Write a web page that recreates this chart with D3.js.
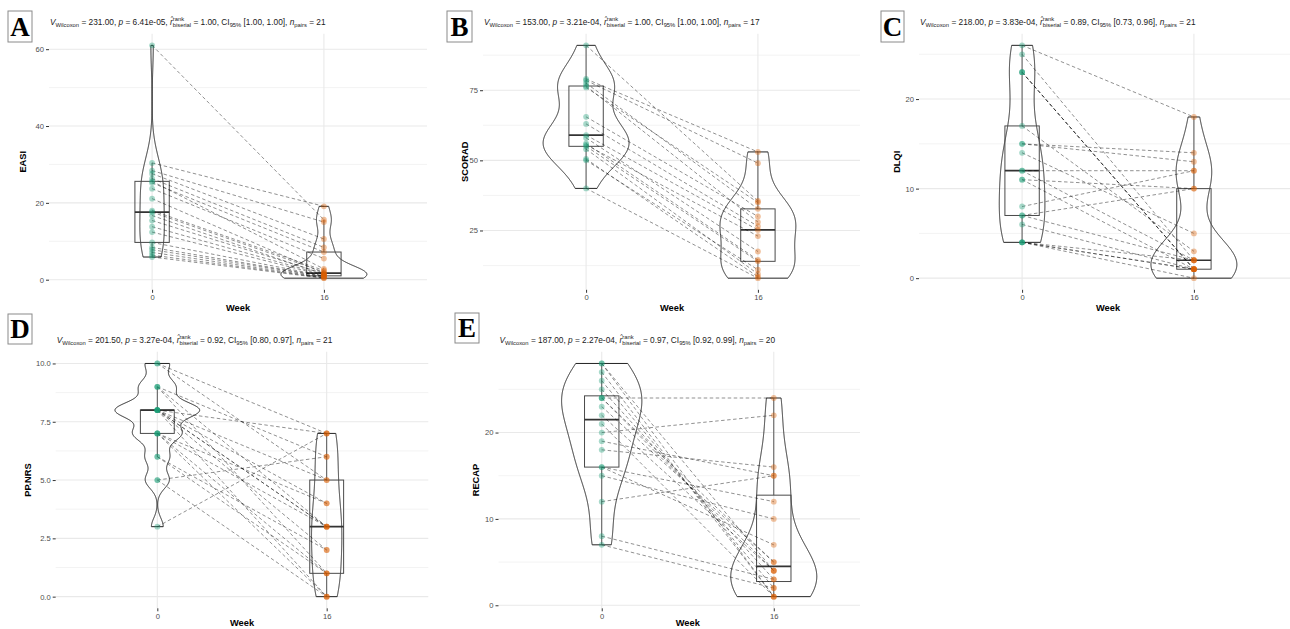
<!DOCTYPE html>
<html>
<head>
<meta charset="utf-8">
<script src="https://cdn.jsdelivr.net/npm/d3@7"></script>
<style>
body { margin: 0; background: #fff; }
svg { display: block; font-family: "Liberation Sans", Arial, sans-serif; }
</style>
</head>
<body>
<svg id="fig" width="1290" height="629"></svg>
<script>
// paired scores: index i is the same patient at week 0 and week 16
var weeks = ["0", "16"];

var easiW0 = [61, 30.4, 28.4, 27.6, 26.3, 25.6, 25.2, 23.7, 21.1, 18, 17.6, 16.7, 15.4, 13.8, 12.4, 9.7, 8.4, 7.8, 7.1, 6.4, 5.9];
var easiW16 = [15.6, 19.1, 15.0, 10.6, 8.4, 2.8, 7.2, 5.5, 1.7, 2.4, 2.0, 1.4, 1.6, 1.3, 1.1, 1.0, 0.9, 0.8, 0.6, 0.5, 0.4];

var scoradW0 = [91, 79, 78.5, 77.5, 76.5, 76, 65.5, 63, 59, 58, 56, 55.5, 55, 54, 50.5, 50, 40];
var scoradW16 = [35.5, 53, 49, 32.7, 28, 35, 30, 26.5, 25.2, 17.5, 14.5, 23, 14, 9.5, 8.5, 11, 8];

var dlqiW0 = [26, 25, 23, 23, 23, 17, 15, 15, 14, 12, 12, 11, 11, 8, 7, 7, 6, 4, 4, 4, 4];
var dlqiW16 = [18, 2, 1, 1, 1, 3, 14, 13, 5, 12, 2, 10, 1, 12, 10, 2, 1, 2, 1, 0, 1];

var nrsW0 = [10, 10, 9, 9, 9, 8, 8, 8, 8, 8, 8, 8, 7, 7, 7, 7, 6, 6, 5, 5, 3];
var nrsW16 = [7, 5, 6, 3, 1, 7, 5, 4, 3, 3, 2, 0, 4, 3, 1, 0, 2, 1, 0, 6, 7];

var recapW0 = [24, 20, 12, 16, 15, 18, 19, 16, 8, 7, 28, 28, 27, 26, 25, 24, 24, 23, 22, 21];
var recapW16 = [24, 22, 15, 12, 10, 16, 15, 7, 3, 2, 1, 4, 1, 2, 3, 5, 4, 5, 4, 1];

var easiTicks = [0, 20, 40, 60];
var scoradTicks = [25, 50, 75];
var dlqiTicks = [0, 10, 20];
var nrsTicks = [0, 2.5, 5, 7.5, 10];
var recapTicks = [0, 10, 20];

// Wilcoxon results printed above each panel
var vStat = ["231.00", "153.00", "218.00", "201.50", "187.00"];
var pVal = ["6.41e-05", "3.21e-04", "3.83e-04", "3.27e-04", "2.27e-04"];
var rBis = ["1.00", "1.00", "0.89", "0.92", "0.97"];
var ciLow = ["1.00", "1.00", "0.73", "0.80", "0.92"];
var ciHigh = ["1.00", "1.00", "0.96", "0.97", "0.99"];
var nPairs = ["21", "17", "21", "21", "20"];

var colW0 = "#1B9E77", colW16 = "#D95F02";

var panels = [
  {tag: "A", name: "EASI", a: easiW0, b: easiW16, ticks: easiTicks, fmt: d3.format("d"),
   x0: 49, x1: 427, top: 33.7, bottom: 289.8, tagBox: [8, 11, 24, 31], titleX: 26, clipR: 430, weekDy: 21},
  {tag: "B", name: "SCORAD", a: scoradW0, b: scoradW16, ticks: scoradTicks, fmt: d3.format("d"),
   x0: 483, x1: 861, top: 33.7, bottom: 289.8, tagBox: [447, 11, 25, 31], titleX: 468, clipR: 860, weekDy: 21},
  {tag: "C", name: "DLQI", a: dlqiW0, b: dlqiW16, ticks: dlqiTicks, fmt: d3.format("d"),
   x0: 919, x1: 1297, top: 33.7, bottom: 289.8, tagBox: [881, 11, 23, 31], titleX: 900, clipR: 1290, weekDy: 21},
  {tag: "D", name: "PP.NRS", a: nrsW0, b: nrsW16, ticks: nrsTicks, fmt: d3.format(".1f"),
   x0: 55.7, x1: 428.3, top: 351.8, bottom: 608.3, tagBox: [8, 314, 24, 30], titleX: 31, clipR: 430, weekDy: 17.5},
  {tag: "E", name: "RECAP", a: recapW0, b: recapW16, ticks: recapTicks, fmt: d3.format("d"),
   x0: 498.5, x1: 877, top: 351.8, bottom: 608.3, tagBox: [455, 313, 24, 30], titleX: 479, clipR: 860, weekDy: 17.5}
];

var svg = d3.select("#fig");

function bwNrd0(v) {
  var s = v.slice().sort(d3.ascending);
  var sd = d3.deviation(s);
  var iqr = d3.quantile(s, 0.75) - d3.quantile(s, 0.25);
  var lo = Math.min(sd, iqr / 1.34);
  if (!lo) lo = sd || 1;
  return 0.9 * lo * Math.pow(s.length, -0.2);
}

function density(v) {
  var bw = bwNrd0(v);
  var ext = d3.extent(v);
  var grid = d3.range(512).map(function (i) { return ext[0] + (ext[1] - ext[0]) * i / 511; });
  return grid.map(function (y) {
    var d = d3.mean(v, function (x) {
      var u = (y - x) / bw;
      return Math.exp(-0.5 * u * u) / Math.sqrt(2 * Math.PI);
    }) / bw;
    return {v: y, d: d};
  });
}

function boxStats(v) {
  var s = v.slice().sort(d3.ascending);
  var q1 = d3.quantile(s, 0.25), med = d3.quantile(s, 0.5), q3 = d3.quantile(s, 0.75);
  var iqr = q3 - q1;
  var lo = d3.min(s.filter(function (x) { return x >= q1 - 1.5 * iqr; }));
  var hi = d3.max(s.filter(function (x) { return x <= q3 + 1.5 * iqr; }));
  return {q1: q1, med: med, q3: q3, lo: lo, hi: hi};
}

function drawTitle(g, x, y, i) {
  var base = 8.3, small = 5.8;
  var cx = x;
  function put(t, opt) {
    opt = opt || {};
    var el = g.append("text")
      .attr("x", cx).attr("y", y + (opt.dy || 0))
      .attr("xml:space", "preserve")
      .style("white-space", "pre")
      .style("font-size", (opt.small ? small : base) + "px")
      .style("font-style", opt.it ? "italic" : "normal")
      .attr("fill", "#1a1a1a")
      .text(t);
    return el.node().getComputedTextLength();
  }
  cx += put("V", {it: true});
  cx += put("Wilcoxon", {small: true, dy: 2.3});
  cx += put(" = " + vStat[i] + ", ");
  cx += put("p", {it: true});
  cx += put(" = " + pVal[i] + ", ");
  var rx = cx;
  cx += put("r", {it: true});
  g.append("text").attr("x", rx + 0.7).attr("y", y - 4.6)
    .style("font-size", "5.5px").attr("fill", "#1a1a1a").text("^");
  var w1 = put("rank", {small: true, dy: -4});
  var w2 = put("biserial", {small: true, dy: 2.4});
  cx += Math.max(w1, w2);
  cx += put(" = " + rBis[i] + ", CI");
  cx += put("95%", {small: true, dy: 2.3});
  cx += put(" [" + ciLow[i] + ", " + ciHigh[i] + "], ");
  cx += put("n", {it: true});
  cx += put("pairs", {small: true, dy: 2.3});
  put(" = " + nPairs[i]);
}

panels.forEach(function (p, i) {
  var g = svg.append("g");
  var clipId = "clip" + i;
  svg.append("clipPath").attr("id", clipId)
    .append("rect").attr("x", 0).attr("y", p.top - 40)
    .attr("width", p.clipR).attr("height", 400);
  g.attr("clip-path", "url(#" + clipId + ")");

  var all = p.a.concat(p.b);
  var ext = d3.extent(all);
  var pad = (ext[1] - ext[0]) * 0.05;
  var y = d3.scaleLinear().domain([ext[0] - pad, ext[1] + pad]).range([p.bottom, p.top]);
  var x = d3.scalePoint().domain(weeks).range([p.x0, p.x1]).padding(0.6);
  var step = x.step();

  // grid
  var tk = p.ticks, dt = tk[1] - tk[0];
  var minors = d3.range(tk[0] - dt / 2, tk[tk.length - 1] + dt, dt)
    .filter(function (m) { return m >= y.domain()[0] && m <= y.domain()[1]; });
  g.selectAll(".minor").data(minors).enter().append("line")
    .attr("x1", p.x0).attr("x2", p.x1)
    .attr("y1", function (d) { return y(d); }).attr("y2", function (d) { return y(d); })
    .attr("stroke", "#f2f2f2").attr("stroke-width", 0.9);
  g.selectAll(".major").data(tk).enter().append("line")
    .attr("x1", p.x0).attr("x2", p.x1)
    .attr("y1", function (d) { return y(d); }).attr("y2", function (d) { return y(d); })
    .attr("stroke", "#e9e9e9").attr("stroke-width", 1.1);
  g.selectAll(".vgrid").data(weeks).enter().append("line")
    .attr("x1", function (d) { return x(d); }).attr("x2", function (d) { return x(d); })
    .attr("y1", p.top).attr("y2", p.bottom)
    .attr("stroke", "#e9e9e9").attr("stroke-width", 1.1);

  // axes
  var ya = g.append("g").attr("transform", "translate(" + p.x0 + ",0)")
    .call(d3.axisLeft(y).tickValues(tk).tickFormat(p.fmt).tickSize(3).tickPadding(2));
  var xa = g.append("g").attr("transform", "translate(0," + p.bottom + ")")
    .call(d3.axisBottom(x).tickSize(3).tickPadding(2));
  [ya, xa].forEach(function (a) {
    a.select(".domain").remove();
    a.selectAll("line").attr("stroke", "#333");
    a.selectAll("text").attr("fill", "#4d4d4d").style("font-size", "7.6px")
      .style("font-family", "Liberation Sans, Arial, sans-serif");
  });

  g.append("text").attr("x", (p.x0 + p.x1) / 2).attr("y", p.bottom + p.weekDy)
    .attr("text-anchor", "middle").style("font-weight", "bold").style("font-size", "9.3px")
    .text("Week");
  g.append("text").attr("transform", "translate(" + p.titleX + "," + ((p.top + p.bottom) / 2) + ") rotate(-90)")
    .attr("text-anchor", "middle").style("font-weight", "bold").style("font-size", "9.3px")
    .text(p.name);

  // violins, scaled by the largest density in the panel
  var dens = [density(p.a), density(p.b)];
  var dmax = d3.max(dens, function (ds) { return d3.max(ds, function (d) { return d.d; }); });
  var half = 0.25 * step;
  dens.forEach(function (ds, k) {
    var cx = x(weeks[k]);
    var area = d3.area()
      .x0(function (d) { return cx - d.d / dmax * half; })
      .x1(function (d) { return cx + d.d / dmax * half; })
      .y(function (d) { return y(d.v); });
    g.append("path").datum(ds).attr("d", area)
      .attr("fill", "none").attr("stroke", "#222").attr("stroke-width", 1);
  });

  // boxplots
  [p.a, p.b].forEach(function (v, k) {
    var s = boxStats(v), cx = x(weeks[k]), bw = 0.1 * step;
    g.append("line").attr("x1", cx).attr("x2", cx).attr("y1", y(s.q3)).attr("y2", y(s.hi))
      .attr("stroke", "#555").attr("stroke-width", 1);
    g.append("line").attr("x1", cx).attr("x2", cx).attr("y1", y(s.q1)).attr("y2", y(s.lo))
      .attr("stroke", "#555").attr("stroke-width", 1);
    g.append("rect").attr("x", cx - bw).attr("width", 2 * bw)
      .attr("y", y(s.q3)).attr("height", y(s.q1) - y(s.q3))
      .attr("fill", "none").attr("stroke", "#4a4a4a").attr("stroke-width", 1);
    g.append("line").attr("x1", cx - bw).attr("x2", cx + bw).attr("y1", y(s.med)).attr("y2", y(s.med))
      .attr("stroke", "#333").attr("stroke-width", 1.7);
  });

  // paired dashed paths
  var pairs = p.a.map(function (v, j) { return [v, p.b[j]]; });
  g.selectAll(".pair").data(pairs).enter().append("line")
    .attr("x1", x(weeks[0])).attr("x2", x(weeks[1]))
    .attr("y1", function (d) { return y(d[0]); }).attr("y2", function (d) { return y(d[1]); })
    .attr("stroke", "#000").attr("stroke-opacity", 0.55).attr("stroke-width", 0.8)
    .attr("stroke-dasharray", "3.5,2.5");

  // points
  [p.a, p.b].forEach(function (v, k) {
    g.selectAll(".pt" + k).data(v).enter().append("circle")
      .attr("cx", x(weeks[k])).attr("cy", function (d) { return y(d); })
      .attr("r", 2.9).attr("fill", k ? colW16 : colW0).attr("fill-opacity", 0.38);
  });

  // title
  drawTitle(svg.append("g"), p.x0 + 1, p.top - 9, i);

  // panel tag
  var tb = p.tagBox;
  svg.append("rect").attr("x", tb[0]).attr("y", tb[1]).attr("width", tb[2]).attr("height", tb[3])
    .attr("fill", "#fff").attr("stroke", "#8a8a8a").attr("stroke-width", 1);
  svg.append("text").attr("x", tb[0] + tb[2] / 2).attr("y", tb[1] + tb[3] - 6)
    .attr("text-anchor", "middle")
    .style("font-family", "Liberation Serif, Times New Roman, serif")
    .style("font-weight", "bold").style("font-size", "27px").text(p.tag);
});
</script>
</body>
</html>
